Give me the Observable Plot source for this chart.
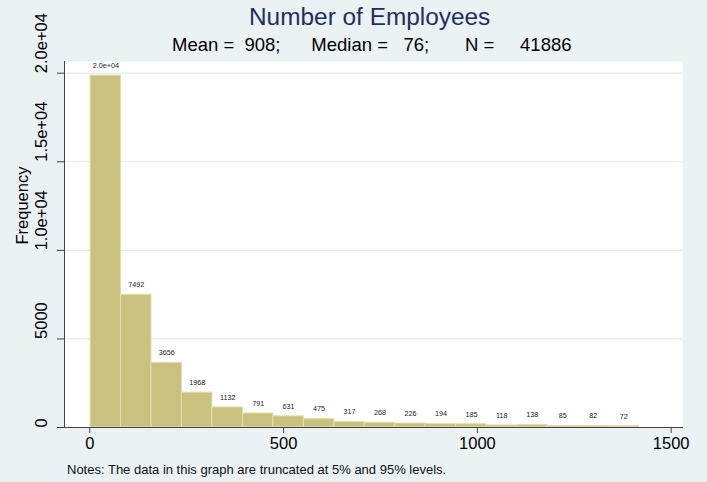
<!DOCTYPE html>
<html><head><meta charset="utf-8">
<script src="https://cdn.jsdelivr.net/npm/d3@7"></script>
<script src="https://cdn.jsdelivr.net/npm/@observablehq/plot@0.6"></script>
<style>
html,body{margin:0;padding:0;background:#EAF2F3;width:707px;height:482px;overflow:hidden;font-family:"Liberation Sans",Arial,sans-serif;}
#title{padding-top:3px;padding-left:249px;height:28px;line-height:28px;font-size:24.4px;color:#1f2f5f;text-align:left;white-space:pre;}
#subtitle{margin-top:3px;padding-left:172px;height:22px;line-height:22px;font-size:18.5px;color:#000;text-align:left;white-space:pre;}
#note{margin-top:2px;padding-left:67px;height:16px;line-height:16px;font-size:13px;color:#111;white-space:pre;}
#chart svg{display:block;}
</style></head>
<body>
<div id="title"></div><div id="subtitle"></div><div id="chart"></div><div id="note"></div>
<script>
const titleText = "Number of Employees";
const subtitleText = "Mean =  908;      Median =   76;       N =     41886";
const noteText = "Notes: The data in this graph are truncated at 5% and 95% levels.";
const counts = [19867, 7492, 3656, 1968, 1132, 791, 631, 475, 317, 268, 226, 194, 185, 118, 138, 85, 82, 72];
const countLabels = ["2.0e+04", "7492", "3656", "1968", "1132", "791", "631", "475", "317", "268", "226", "194", "185", "118", "138", "85", "82", "72"];
const binStart = 2;
const binWidth = 78.6;
const xTicks = [0, 500, 1000, 1500];
const xTickLabels = ["0", "500", "1000", "1500"];
const yTicks = [0, 5000, 10000, 15000, 20000];
const yTickLabels = ["0", "5000", "1.0e+04", "1.5e+04", "2.0e+04"];
const yTitle = "Frequency";

document.getElementById("title").textContent = titleText;
document.getElementById("subtitle").textContent = subtitleText;
document.getElementById("note").textContent = noteText;

const bars = counts.map((c, i) => ({
  x1: binStart + i * binWidth,
  x2: binStart + (i + 1) * binWidth,
  count: c,
  label: countLabels[i]
}));

const axisColor = "#444";
const chart = Plot.plot({
  width: 707, height: 404,
  marginTop: 5, marginBottom: 33, marginLeft: 64, marginRight: 25,
  style: {background: "transparent", fontFamily: "Liberation Sans, Arial, sans-serif", color: "#000", overflow: "visible"},
  x: {domain: [-65.3, 1529.2], label: null},
  y: {domain: [0, 20660], label: null},
  marks: [
    Plot.frame({fill: "white", stroke: "none"}),
    Plot.ruleY(yTicks.slice(1), {stroke: "#E3EDEF", strokeWidth: 1.2}),
    Plot.rectY(bars, {x1: "x1", x2: "x2", y: "count", fill: "#C9C27F", stroke: "#E4DFB0", strokeWidth: 1}),
    Plot.text(bars, {x: d => (d.x1 + d.x2) / 2, y: "count", text: "label", dy: -10, fontSize: 7.2, fill: "#222"}),
    Plot.frame({anchor: "left", stroke: axisColor}),
    Plot.frame({anchor: "bottom", stroke: axisColor}),
    Plot.axisX({ticks: xTicks, tickFormat: (d, i) => xTickLabels[i], tickSize: 6, tickPadding: 4, fontSize: 16.5, stroke: axisColor, fill: "#000", label: null}),
    Plot.axisY({ticks: yTicks, tickFormat: () => "", tickSize: 7, stroke: axisColor, label: null}),
    Plot.text(yTicks, {y: d => d, text: (d, i) => yTickLabels[i], frameAnchor: "left", dx: -23, rotate: -90, fontSize: 16.5, fill: "#000"}),
    Plot.text([yTitle], {text: d => d, frameAnchor: "left", dx: -42, rotate: -90, fontSize: 16.5, fill: "#000"})
  ]
});
document.getElementById("chart").appendChild(chart);
</script>
</body></html>
